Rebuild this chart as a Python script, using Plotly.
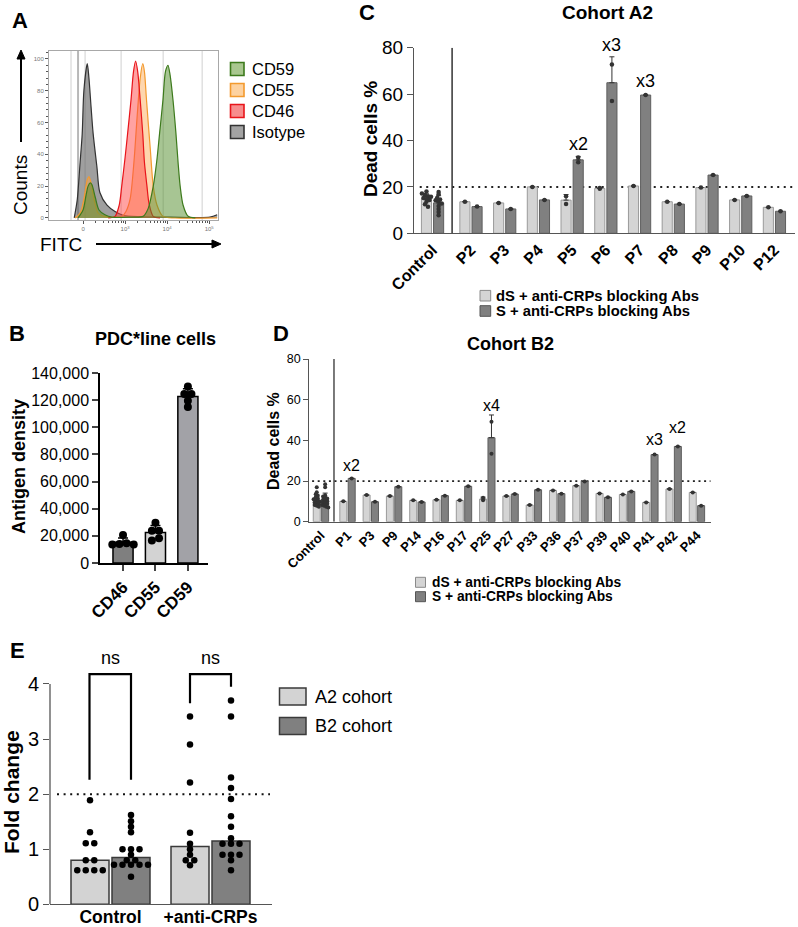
import numpy as np
import plotly.graph_objects as go
from collections import Counter, defaultdict

W, H = 798, 927
FONT = "Liberation Sans, Arial, sans-serif"

# ---------------- Panel A: flow cytometry histograms (x in display decades) ----------------
A_tick_vals = [0, 1, 2, 3]
A_tick_text = ["0", "10<sup>3</sup>", "10<sup>4</sup>", "10<sup>5</sup>"]
A_iso_x = [-0.21, -0.14, -0.07, -0.02, 0.02, 0.10, 0.14, 0.19, 0.24, 0.33, 0.40, 0.57, 0.76, 0.95, 1.36, 2.07, 3.02, 3.19]
A_iso_y = [0, 11, 35, 53, 80, 97, 88, 70, 53, 32, 16, 8, 4, 1.7, 0.8, 0.5, 0.5, 2]
A_cd55_x = [-0.19, -0.07, 0.02, 0.10, 0.14, 0.19, 0.26, 0.36, 0.50, 0.76, 0.93, 1.02, 1.12, 1.21, 1.29, 1.36, 1.42,
            1.46, 1.51, 1.60, 1.67, 1.76, 1.90, 2.19, 3.19]
A_cd55_y = [0, 3, 12, 24, 26, 22, 12, 3, 1, 0.5, 1, 4, 12, 35, 65, 88, 97, 92, 74, 43, 20, 8, 1, 0, 0]
A_cd46_x = [0.60, 0.76, 0.86, 0.92, 1.00, 1.06, 1.14, 1.20, 1.25, 1.30, 1.36, 1.42, 1.46, 1.52, 1.57, 1.67, 1.83]
A_cd46_y = [0, 1, 8, 20, 38, 53, 74, 92, 98.7, 92, 74, 53, 35, 20, 9, 1, 0]
A_cd59_x = [-0.12, 0, 0.07, 0.12, 0.17, 0.21, 0.29, 0.38, 0.52, 0.69, 1.12, 1.43, 1.55, 1.67, 1.75, 1.82, 1.90,
            1.96, 2.02, 2.07, 2.14, 2.21, 2.26, 2.31, 2.38, 2.50, 2.67]
A_cd59_y = [0, 5, 14, 20, 22, 21, 13, 5, 2, 0.5, 0.5, 1, 6, 20, 35, 53, 74, 92, 96, 90, 74, 53, 35, 20, 8, 1, 0]
A_legend = ["CD59", "CD55", "CD46", "Isotype"]

# ---------------- Panel B: antigen density ----------------
B_antigens = ["CD46", "CD55", "CD59"]
B_points = [[20700, 13600, 14000, 14500, 13600],
            [29700, 23800, 23800, 16500, 18200],
            [130100, 124500, 124500, 119500, 114900]]

# ---------------- Panel C: Cohort A2 ----------------
C_patients = ["P2", "P3", "P4", "P5", "P6", "P7", "P8", "P9", "P10", "P12"]
C_ctrl_dS = [18.0, 17.2, 16.5, 16.0, 15.8, 15.2, 14.8, 14.3, 13.6, 12.5, 11.4]
C_ctrl_S = [17.8, 16.8, 15.2, 14.6, 14.2, 13.6, 12.8, 11.8, 10.5, 9.2, 7.8]
C_dS = [[13.6], [13.1], [20.0], [16.0, 12.6], [19.2, 19.5], [20.4], [13.6], [19.7], [14.4], [11.2]]
C_S = [[11.5], [10.5], [14.4], [32.7, 30.6], [72.8, 57.0], [59.6], [12.6], [25.1], [16.1], [9.5]]
C_fold = {"P5": "x2", "P6": "x3", "P7": "x3"}

# ---------------- Panel D: Cohort B2 ----------------
D_patients = ["P1", "P3", "P9", "P14", "P16", "P17", "P25", "P27", "P33", "P36", "P37", "P39", "P40", "P41", "P42", "P44"]
D_ctrl_dS = [17.0, 14.5, 13.5, 12.8, 12.0, 11.5, 11.0, 10.6, 10.2, 9.8, 9.4, 9.0, 8.6, 8.2, 7.8, 7.4]
D_ctrl_S = [18.4, 17.0, 13.0, 12.4, 12.0, 11.4, 10.8, 10.4, 10.0, 9.6, 9.2, 8.8, 8.2, 7.8, 7.4, 7.0]
D_dS = [[10.0], [13.1], [12.6], [10.5], [10.8], [10.5], [11.8, 10.5], [12.6], [8.2], [15.4], [17.7], [13.9], [13.4],
        [9.5], [16.1], [14.4]]
D_S = [[21.3], [9.8], [17.2], [9.7], [12.8], [17.4], [49.2, 33.4], [13.6], [15.7], [13.8], [19.8], [12.0], [14.9],
       [33.0], [37.0], [7.9]]
D_fold = {"P1": "x2", "P25": "x4", "P41": "x3", "P42": "x2"}

# ---------------- Panel E: fold change ----------------
E_groups = ["Control", "+anti-CRPs"]
E_A2 = [[1.89, 1.31, 1.11, 1.11, 0.80, 0.80, 0.62, 0.62, 0.62, 0.62],
        [3.41, 2.90, 2.21, 1.30, 1.10, 1.00, 0.90, 0.80, 0.80, 0.71]]
E_B2 = [[1.62, 1.51, 1.41, 1.31, 1.0, 1.0, 1.0, 0.9, 0.8, 0.8, 0.72, 0.72, 0.72, 0.72, 0.72, 0.5],
        [3.70, 3.41, 2.30, 2.11, 1.91, 1.60, 1.41, 1.20, 1.10, 1.10, 1.10, 0.90, 0.90, 0.90, 0.80, 0.62]]
E_legend = ["A2 cohort", "B2 cohort"]
series_legend = ["dS + anti-CRPs blocking Abs", "S + anti-CRPs blocking Abs"]

# =================================================================
LIGHT, DARK = "#d4d4d4", "#808080"


def px(x):
    return x / W


def py(y):
    return 1 - y / H


def swarm(vals, center, bin_size, step):
    keys = [int(round(v / bin_size)) for v in vals]
    cnt = Counter(keys)
    seen = defaultdict(int)
    xs = []
    for k in keys:
        n = cnt[k]
        i = seen[k]
        seen[k] += 1
        xs.append(center + (i - (n - 1) / 2) * step)
    return xs


def sd(v):
    return float(np.std(v, ddof=1)) if len(v) > 1 else None


fig = go.Figure()

# ---- A ----
for xs, ys, fillc, linec in [(A_iso_x, A_iso_y, "rgba(95,95,95,0.6)", "#333333"),
                             (A_cd55_x, A_cd55_y, "rgba(253,165,75,0.45)", "#f39a2e"),
                             (A_cd46_x, A_cd46_y, "rgba(255,70,70,0.5)", "#e8141a"),
                             (A_cd59_x, A_cd59_y, "rgba(80,140,40,0.5)", "#3d7a1c")]:
    fig.add_trace(go.Scatter(x=xs, y=ys, mode="lines", line=dict(color=linec, width=1.2, shape="spline", smoothing=0.8),
                             fill="tozeroy", fillcolor=fillc, xaxis="x", yaxis="y", showlegend=False, hoverinfo="skip"))

# ---- B ----
B_mean = [float(np.mean(p)) for p in B_points]
B_sd = [sd(p) for p in B_points]
fig.add_trace(go.Bar(x=list(range(3)), y=B_mean, width=0.62, marker=dict(color=["#7f7f7f", "#d3d3d3", "#a2a2a7"],
                                                                         line=dict(color="black", width=1.5)),
                     error_y=dict(type="data", array=B_sd, arrayminus=[0, 0, 0], symmetric=False, color="black",
                                  thickness=1.5, width=5),
                     xaxis="x2", yaxis="y2", showlegend=False))
for i, pts in enumerate(B_points):
    fig.add_trace(go.Scatter(x=swarm(pts, i, 3000, 0.22), y=pts, mode="markers",
                             marker=dict(color="black", size=8), xaxis="x2", yaxis="y2", showlegend=False))

# ---- C & D ----
CONTROL_POS = -1.14
OFF = 0.18
BW = 0.30


def cohort(patients, ctrl_dS, ctrl_S, dS, S, xa, ya, dot_size, swarm_bin, swarm_step):
    pos = [CONTROL_POS] + list(range(len(patients)))
    groups_dS = [ctrl_dS] + dS
    groups_S = [ctrl_S] + S
    for groups, sign, col, lcol, name in [(groups_dS, -1, LIGHT, "#9a9a9a", series_legend[0]),
                                           (groups_S, 1, DARK, "#5e5e5e", series_legend[1])]:
        means = [float(np.mean(g)) for g in groups]
        sds = [sd(g) for g in groups]
        fig.add_trace(go.Bar(x=pos, y=means, width=BW, offset=sign * OFF - BW / 2, name=name,
                             marker=dict(color=col, line=dict(color=lcol, width=1)),
                             error_y=dict(type="data", array=sds, arrayminus=[0] * len(sds), symmetric=False,
                                          color="#333333", thickness=1, width=2.5),
                             xaxis=xa, yaxis=ya, showlegend=False))
        dx, dy = [], []
        for p, g in zip(pos, groups):
            c = p + sign * OFF
            if p == CONTROL_POS:
                dx += swarm(g, c, swarm_bin, swarm_step)
            else:
                dx += [c] * len(g)
            dy += g
        fig.add_trace(go.Scatter(x=dx, y=dy, mode="markers", marker=dict(color="#333333", size=dot_size),
                                 xaxis=xa, yaxis=ya, showlegend=False, cliponaxis=False))
    return pos


C_pos = cohort(C_patients, C_ctrl_dS, C_ctrl_S, C_dS, C_S, "x3", "y3", 4.5, 1.5, 0.09)
D_pos = cohort(D_patients, D_ctrl_dS, D_ctrl_S, D_dS, D_S, "x4", "y4", 4, 1.5, 0.09)

# ---- E ----
E_OFF = 0.205
for data, sign, col, name in [(E_A2, -1, "#d3d3d3", E_legend[0]), (E_B2, 1, "#808080", E_legend[1])]:
    med = [float(np.median(g)) for g in data]
    fig.add_trace(go.Bar(x=[0, 1], y=med, width=0.38, offset=sign * E_OFF - 0.19, name=name,
                         marker=dict(color=col, line=dict(color="#3a3a3a", width=1.5)),
                         xaxis="x5", yaxis="y5", showlegend=False))
    dx, dy = [], []
    for i, g in enumerate(data):
        dx += swarm(g, i + sign * E_OFF, 0.05, 0.085)
        dy += g
    fig.add_trace(go.Scatter(x=dx, y=dy, mode="markers", marker=dict(color="black", size=6.5),
                             xaxis="x5", yaxis="y5", showlegend=False, cliponaxis=False))

# =================================================================
ax_line = dict(showline=True, zeroline=False, showgrid=False, automargin=False)
tick_font = lambda s, bold=False, color="black": dict(family=FONT, size=s, color=color,
                                                      weight="bold" if bold else "normal")

A_minor = [d + np.log10(m) for d in range(3) for m in range(2, 10)]

C_ticktext = ["Control"] + C_patients
D_ticktext = ["Control"] + D_patients

E_top = 4.7
layout = dict(
    width=W, height=H, margin=dict(l=0, r=0, t=0, b=0, autoexpand=False), paper_bgcolor="white",
    plot_bgcolor="rgba(0,0,0,0)", barmode="overlay", font=dict(family=FONT, color="black"),
    xaxis=dict(domain=[px(49), px(218)], range=[-0.81, 3.21], anchor="y", **ax_line, linecolor="#a8a8a8", mirror=True,
               ticks="outside", ticklen=3, tickcolor="#555", tickvals=A_tick_vals, ticktext=A_tick_text,
               tickfont=tick_font(6, color="#777"),
               minor=dict(tickmode="array", tickvals=A_minor, ticks="outside", ticklen=2, tickcolor="#555")),
    yaxis=dict(domain=[py(220), py(51)], range=[-1.3, 105], anchor="x", **ax_line, linecolor="#a8a8a8", mirror=True,
               ticks="outside", ticklen=3, tickcolor="#555", tickvals=[0, 20, 40, 60, 80, 100],
               tickfont=tick_font(6, color="#777"), minor=dict(dtick=4, ticks="outside", ticklen=2, tickcolor="#555")),
    xaxis2=dict(domain=[px(100), px(208)], range=[-0.71, 2.62], anchor="y2", **ax_line, linecolor="black", linewidth=1.5,
                ticks="outside", ticklen=6, tickwidth=1.5, tickvals=[0, 1, 2], ticktext=B_antigens, tickangle=-45,
                tickfont=tick_font(17, True)),
    yaxis2=dict(domain=[py(563), py(373)], range=[0, 140000], anchor="x2", **ax_line, linecolor="black", linewidth=1.5,
                ticks="outside", ticklen=6, tickwidth=1.5, dtick=20000, tickformat=",", tickfont=tick_font(16)),
    xaxis3=dict(domain=[px(414), px(795)], range=[-1.69, 9.61], anchor="y3", **ax_line, linecolor="#555",
                linewidth=1.3, ticks="", tickvals=C_pos, ticktext=C_ticktext, tickangle=-45,
                tickfont=tick_font(16, True)),
    yaxis3=dict(domain=[py(233.3), py(47.7)], range=[0, 80], anchor="x3", **ax_line, linecolor="#555", linewidth=1.3,
                ticks="outside", ticklen=6, tickwidth=1.3, tickcolor="#555", dtick=20, tickfont=tick_font(19)),
    xaxis4=dict(domain=[px(309.3), px(710.7)], range=[-1.64, 15.59], anchor="y4", **ax_line, linecolor="#555",
                linewidth=1.2, ticks="", tickvals=D_pos, ticktext=D_ticktext, tickangle=-45,
                tickfont=tick_font(13, True)),
    yaxis4=dict(domain=[py(521.7), py(359)], range=[0, 80], anchor="x4", **ax_line, linecolor="#555", linewidth=1.2,
                ticks="outside", ticklen=5, tickwidth=1.2, tickcolor="#555", dtick=20, tickfont=tick_font(12.5)),
    xaxis5=dict(domain=[px(50), px(271.7)], range=[-0.605, 1.612], anchor="y5", **ax_line, linecolor="#555",
                linewidth=1.3, ticks="", tickvals=[0, 1], ticktext=E_groups, tickfont=tick_font(17.5, True),
                ticklabelstandoff=-3),
    yaxis5=dict(domain=[py(904.3), py(904.3 - E_top * 55.08)], range=[0, E_top], anchor="x5", showline=False,
                zeroline=False, showgrid=False, automargin=False, ticks="outside", ticklen=6, tickwidth=1.3,
                tickcolor="#555", tickvals=[0, 1, 2, 3, 4], tickfont=tick_font(20)),
)
fig.update_layout(**layout)

shapes = []
# A gridlines
for gx, gw, gc in [(-0.286, 1, "#d0d0d0"), (-0.119, 2, "#b8b8b8"), (0.048, 1, "#d0d0d0"), (0.905, 1, "#d0d0d0"),
                   (1.905, 1, "#d0d0d0"), (2.833, 1, "#d0d0d0")]:
    shapes.append(dict(type="line", xref="x", yref="y domain", x0=gx, x1=gx, y0=0, y1=1, layer="below",
                       line=dict(color=gc, width=gw)))
# C / D separators and 20% lines
shapes.append(dict(type="line", xref="x3", yref="y3", x0=-0.56, x1=-0.56, y0=0, y1=80, line=dict(color="#333", width=1.5)))
shapes.append(dict(type="line", xref="x3", yref="y3", x0=-1.52, x1=9.61, y0=20, y1=20, layer="below",
                   line=dict(color="#222", width=2, dash="2px,4.5px")))
shapes.append(dict(type="line", xref="x4", yref="y4", x0=-0.58, x1=-0.58, y0=0, y1=80, line=dict(color="#222", width=1.2)))
shapes.append(dict(type="line", xref="x4", yref="y4", x0=-1.52, x1=15.59, y0=20, y1=20, layer="below",
                   line=dict(color="#222", width=1.8, dash="2px,3.6px")))
# E axis line, 2-fold line, brackets
shapes.append(dict(type="line", xref="x5 domain", yref="y5", x0=0, x1=0, y0=0, y1=4, line=dict(color="#555", width=1.3)))
shapes.append(dict(type="line", xref="x5", yref="y5", x0=-0.535, x1=1.595, y0=2, y1=2, layer="below",
                   line=dict(color="#111", width=2, dash="2px,4.6px")))
shapes.append(dict(type="path", xref="x5", yref="y5", path="M -0.21,2.26 L -0.21,4.18 L 0.205,4.18 L 0.205,2.26",
                   line=dict(color="black", width=2.2)))
shapes.append(dict(type="path", xref="x5", yref="y5", path="M 0.795,3.65 L 0.795,4.18 L 1.205,4.18 L 1.205,3.95",
                   line=dict(color="black", width=2.2)))


def rect(x0, y0, x1, y1, fill, line, lw=1.0):
    shapes.append(dict(type="rect", xref="paper", yref="paper", x0=px(x0), x1=px(x1), y0=py(y1), y1=py(y0),
                       fillcolor=fill, line=dict(color=line, width=lw)))


def arrow_path(pts):
    return "M " + " L ".join(f"{px(a):.5f},{py(b):.5f}" for a, b in pts) + " Z"


# A arrows (Counts up, FITC right)
shapes.append(dict(type="line", xref="paper", yref="paper", x0=px(21), x1=px(21), y0=py(142), y1=py(57),
                   line=dict(color="black", width=2)))
shapes.append(dict(type="path", xref="paper", yref="paper", path=arrow_path([(21, 50), (17, 59), (25, 59)]),
                   fillcolor="black", line=dict(color="black", width=1)))
shapes.append(dict(type="line", xref="paper", yref="paper", x0=px(96), x1=px(214), y0=py(244), y1=py(244),
                   line=dict(color="black", width=2)))
shapes.append(dict(type="path", xref="paper", yref="paper", path=arrow_path([(221, 244), (212, 240), (212, 248)]),
                   fillcolor="black", line=dict(color="black", width=1)))

# legends (A, C, D, E)
A_leg_style = [("#a9c78f", "#3d7a1c"), ("#fdd2a0", "#f39a2e"), ("#f78d8d", "#e8141a"), ("#a3a3a3", "#333333")]
for i, (f, l) in enumerate(A_leg_style):
    cy = 69 + 21 * i
    rect(230.5, cy - 6.5, 244, cy + 6.5, f, l, 1.6)
for i, (f, l) in enumerate([(LIGHT, "#8a8a8a"), (DARK, "#555555")]):
    cy = 295.7 + 15.3 * i
    rect(480, cy - 5.3, 490.7, cy + 5.3, f, l, 1)
    cy = 582.3 + 14.4 * i
    rect(415.5, cy - 5, 425.5, cy + 5, f, l, 1)
for i, (f, l) in enumerate([("#d3d3d3", "#3a3a3a"), ("#808080", "#3a3a3a")]):
    cy = 696.5 + 29.5 * i
    rect(279.5, cy - 8.5, 306, cy + 8.5, f, l, 1.5)

fig.update_layout(shapes=shapes)

ann = []


def text(t, x, y, size, bold=False, angle=0, xanchor="center", color="black"):
    ann.append(dict(text=t, x=px(x), y=py(y), xref="paper", yref="paper", showarrow=False, textangle=angle,
                    xanchor=xanchor, yanchor="middle",
                    font=dict(family=FONT, size=size, color=color, weight="bold" if bold else "normal")))


# panel letters
for L, x, y in [("A", 20, 21), ("B", 17, 333), ("C", 367, 13), ("D", 281, 333), ("E", 17, 650)]:
    text(L, x, y, 22, True)
# panel A labels
text("Counts", 20, 185, 19, angle=-90)
text("FITC", 61, 245, 19)
for i, name in enumerate(A_legend):
    text(name, 250, 69 + 21 * i, 16.5, xanchor="left")
# titles
text("PDC*line cells", 155, 339, 18, True)
text("Cohort A2", 607, 13, 19, True)
text("Cohort B2", 510, 344, 18, True)
# y titles
text("Antigen density", 19, 467, 18, True, angle=-90)
text("Dead cells %", 370, 139, 19, True, angle=-90)
text("Dead cells %", 273, 441, 16, True, angle=-90)
text("Fold change", 11, 792, 21, True, angle=-90)
# series legends text
for i, s in enumerate(series_legend):
    text(s, 494, 295.7 + 15.3 * i, 14.8, True, xanchor="left")
    text(s, 430, 582.3 + 14.4 * i, 13.8, True, xanchor="left")
for i, s in enumerate(E_legend):
    text(s, 312.5, 696.5 + 29.5 * i, 18, xanchor="left")

# fold-change labels above S bars
C_shift = {"P5": 12, "P6": 12, "P7": 14}
for p, lab in C_fold.items():
    i = C_patients.index(p)
    g = C_S[i]
    top = float(np.mean(g)) + (sd(g) or 0)
    ann.append(dict(text=lab, x=i + OFF, y=top, xref="x3", yref="y3", showarrow=False, yanchor="middle",
                    yshift=C_shift[p], font=dict(family=FONT, size=18)))
D_shift = {"P1": 13, "P25": 9, "P41": 15, "P42": 19}
for p, lab in D_fold.items():
    i = D_patients.index(p)
    g = D_S[i]
    top = float(np.mean(g)) + (sd(g) or 0)
    ann.append(dict(text=lab, x=i + OFF, y=top, xref="x4", yref="y4", showarrow=False, yanchor="middle",
                    yshift=D_shift[p], font=dict(family=FONT, size=16)))
# ns labels
for i in range(2):
    ann.append(dict(text="ns", x=i, y=4.47, xref="x5", yref="y5", showarrow=False, yanchor="middle",
                    font=dict(family=FONT, size=18)))

fig.update_layout(annotations=ann)
fig.write_html("out.html")
